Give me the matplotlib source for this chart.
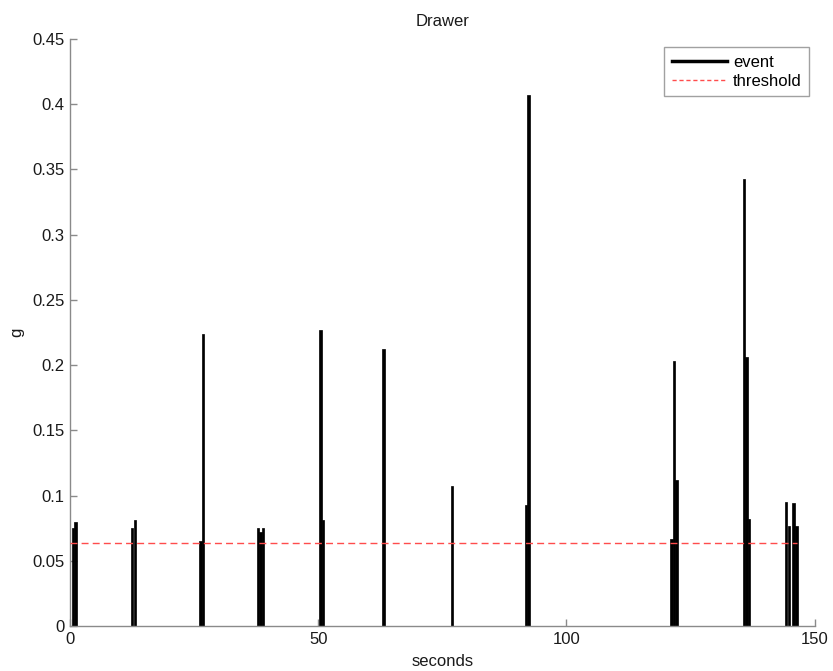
import matplotlib
matplotlib.use("Agg")
import matplotlib.pyplot as plt
from matplotlib.lines import Line2D

plt.rcParams['font.family'] = ['Liberation Sans', 'DejaVu Sans']

# event samples: time (s) and peak acceleration (g)
event_time = [0.6, 1.1,
              12.5, 13.1,
              26.3, 26.8,
              37.9, 38.4, 38.9,
              50.45, 50.95,
              63.2,
              76.9,
              91.85, 92.35,
              121.15, 121.65, 122.15,
              135.8, 136.3, 136.8,
              144.2, 144.8, 145.7, 146.3]
event_g = [0.075, 0.080,
           0.075, 0.081,
           0.065, 0.224,
           0.075, 0.072, 0.075,
           0.227, 0.081,
           0.212,
           0.107,
           0.093, 0.407,
           0.067, 0.203, 0.112,
           0.343, 0.206, 0.082,
           0.095, 0.077, 0.094, 0.077]

threshold_value = 0.064
threshold_span = [0, 146.4]

x_ticks = [0, 50, 100, 150]
y_ticks = [0, 0.05, 0.1, 0.15, 0.2, 0.25, 0.3, 0.35, 0.4, 0.45]
y_tick_labels = ['0', '0.05', '0.1', '0.15', '0.2', '0.25', '0.3', '0.35', '0.4', '0.45']

fig = plt.figure(figsize=(8.33, 6.71), dpi=100)
ax = fig.add_axes([0.084, 0.067, 0.894, 0.875])

ax.bar(event_time, event_g, width=0.5, color='black', edgecolor='black',
       linewidth=0.5, zorder=2)
ax.plot(threshold_span, [threshold_value, threshold_value], color='#ff4c4c',
        linestyle=(0, (5, 3)), linewidth=1.0, zorder=3)

ax.set_xlim(0, 150)
ax.set_ylim(0, 0.45)
ax.set_xticks(x_ticks)
ax.set_xticklabels([str(v) for v in x_ticks])
ax.set_yticks(y_ticks)
ax.set_yticklabels(y_tick_labels)

for side in ('top', 'right'):
    ax.spines[side].set_visible(False)
for side in ('left', 'bottom'):
    ax.spines[side].set_color('#8a8a8a')
    ax.spines[side].set_linewidth(1.0)
ax.tick_params(direction='in', length=5, width=1.0, color='#8a8a8a',
               labelsize=12, labelcolor='#1a1a1a', pad=4)

ax.set_title('Drawer', fontsize=12, color='#1a1a1a', pad=9)
ax.set_xlabel('seconds', fontsize=12, color='#1a1a1a', labelpad=5)
ax.set_ylabel('g', fontsize=12, color='#1a1a1a')
ax.yaxis.set_label_coords(-0.062, 0.5)

handles = [Line2D([], [], color='black', linewidth=2.5),
           Line2D([], [], color='#ff4c4c', linestyle=(0, (3, 2)), linewidth=1.0)]
leg = ax.legend(handles, ['event', 'threshold'], loc='upper right',
                bbox_to_anchor=(0.993, 0.986), borderaxespad=0.0,
                fontsize=12, frameon=True,
                fancybox=False, edgecolor='#8a8a8a', handlelength=3.3,
                handletextpad=0.4, borderpad=0.45, labelspacing=0.25)
leg.get_frame().set_linewidth(1.0)

fig.savefig('out.png', dpi=100, facecolor='white')
